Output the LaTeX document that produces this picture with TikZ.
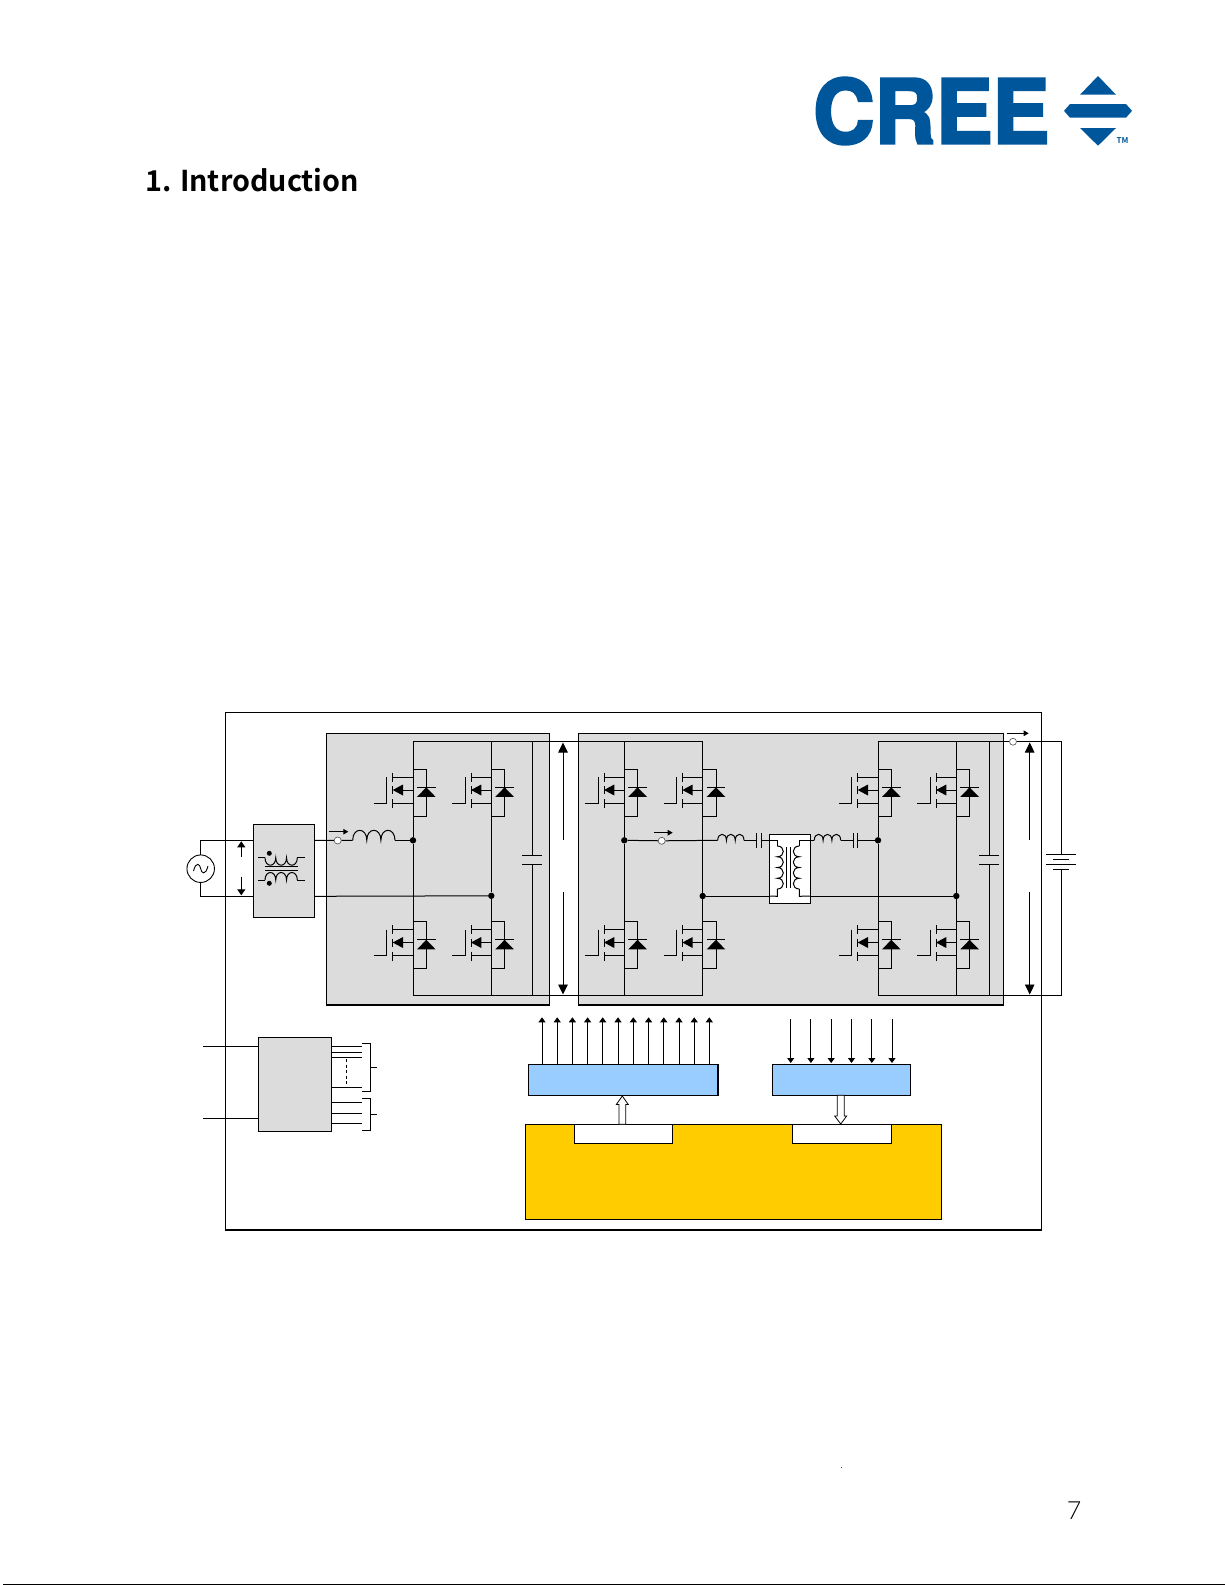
\documentclass[tikz,border=0pt]{standalone}
\usepackage{fontspec}
\usepackage{graphicx}
\usetikzlibrary{arrows.meta,calc}
\setmainfont{Noto Sans}
\newfontfamily\logofont[FakeBold=3.2]{TeX Gyre Heros Bold}
\newfontfamily\titlefont{Noto Sans CJK JP Bold}
\newfontfamily\pagefont{Lato Light}
\definecolor{creeblue}{HTML}{00569A}
\definecolor{panelgray}{HTML}{DCDCDC}
\definecolor{ctrlblue}{HTML}{99CCFF}
\definecolor{ctrlyellow}{HTML}{FFCC00}
\tikzset{
  wire/.style={draw=black,line width=1pt},
  thinw/.style={draw=black,line width=0.9pt},
  boxn/.style={draw=black,line width=1.1pt,inner sep=0pt,outer sep=0pt,anchor=north west},
  dot/.style={circle,fill=black,inner sep=0pt,minimum size=6.4pt},
  term/.style={circle,draw=black!70,fill=white,line width=0.6pt,inner sep=0pt,minimum size=7pt},
  bigarr/.style={draw=black,line width=0.9pt,-{Triangle[length=10pt,width=9.5pt]}},
  smallarr/.style={draw=black,line width=0.9pt,-{Triangle[length=5pt,width=7pt]}},
  curarr/.style={draw=black,line width=0.9pt,-{Triangle[length=5pt,width=5.5pt]}},
  voltarr/.style={draw=black,line width=0.9pt,-{Triangle[length=6pt,width=8pt]}},
  hollow/.style={draw=black,line width=0.8pt,fill=white},
}
% box given by its corners: name, x1, y1, x2, y2, style
\newcommand{\cornerbox}[6]{%
  \node[boxn,#6,minimum width={(#4-#2)*1pt},minimum height={(#5-#3)*1pt}] (#1) at (#2,#3) {};}
% horizontal coil: x0,x1,y,n,h (h>0 bulges up)
\newcommand{\coilh}[5]{%
  \pgfmathsetmacro\cw{(#2-#1)/#4}%
  \draw[wire] (#1,#3) foreach \k in {1,...,#4} { .. controls ({#1+(\k-1)*\cw},{#3-1.33*#5}) and ({#1+\k*\cw},{#3-1.33*#5}) .. ({#1+\k*\cw},#3) };}
% vertical coil: x,y0,y1,n,h (h>0 bulges right)
\newcommand{\coilv}[5]{%
  \pgfmathsetmacro\cw{(#3-#2)/#4}%
  \draw[wire] (#1,#2) foreach \k in {1,...,#4} { .. controls ({#1+1.33*#5},{#2+(\k-1)*\cw}) and ({#1+1.33*#5},{#2+\k*\cw}) .. (#1,{#2+\k*\cw}) };}
% transistor with body diode: leg x, vertical offset
\newcommand{\fetcell}[2]{%
  \draw[wire] ({#1},{777.3+#2}) -- ({#1-20.3},{777.3+#2});
  \draw[wire] ({#1},{803.3+#2}) -- ({#1-20.3},{803.3+#2});
  \draw[wire] ({#1-20.3},{772.7+#2}) -- ({#1-20.3},{781.7+#2});
  \draw[wire] ({#1-20.3},{786+#2}) -- ({#1-20.3},{794+#2});
  \draw[wire] ({#1-20.3},{799.3+#2}) -- ({#1-20.3},{808.3+#2});
  \draw[wire] ({#1-26.3},{777+#2}) -- ({#1-26.3},{803.3+#2}) -- ({#1-39},{803.3+#2});
  \draw[wire] ({#1},{790+#2}) -- ({#1-12},{790+#2});
  \fill[black] ({#1-20.3},{790+#2}) -- ({#1-10},{784.5+#2}) -- ({#1-10},{795.5+#2}) -- cycle;
  \draw[wire] ({#1},{769.3+#2}) -- ({#1+13.3},{769.3+#2}) -- ({#1+13.3},{816+#2}) -- ({#1},{816+#2});
  \fill[black] ({#1+13.3},{787.3+#2}) -- ({#1+22.6},{796.9+#2}) -- ({#1+4},{796.9+#2}) -- cycle;
  \draw[wire] ({#1+4},{787.3+#2}) -- ({#1+22.6},{787.3+#2});}
% capacitor across the rails
\newcommand{\railcap}[1]{%
  \draw[wire] (#1,741.7) -- (#1,855.7);
  \draw[wire] (#1,864) -- (#1,995.3);
  \draw[wire] ({#1-10},855.7) -- ({#1+10},855.7);
  \draw[wire] ({#1-10},864) -- ({#1+10},864);}
\begin{document}
\begin{tikzpicture}[x=1pt,y=-1pt]
\useasboundingbox (0,0) rectangle (1225,1585);
\fill[white] (0,0) rectangle (1225,1585);

% ---------- page furniture ----------
\node[anchor=base west,inner sep=0pt,font=\fontsize{28.7}{29}\selectfont\titlefont] (title) at (145,191.5) {1. Introduction};
\node[anchor=base,inner sep=0pt,text=black,font=\fontsize{25}{25}\selectfont\pagefont] (pageno) at (1074,1519.5) {7};
\fill[black!70] (840.7,1466.7) rectangle (842,1468);
\draw[black,line width=1.4pt] (3,1584.3) -- (1225,1584.3);

% ---------- logo ----------
\node[anchor=south west,inner sep=0pt,text=creeblue] (logo) at (813,144.5) {\resizebox{236pt}{65.5pt}{\logofont CREE}};
\fill[creeblue] (1098,76) -- (1116,94.7) -- (1080,94.7) -- cycle;
\fill[creeblue] (1070,104) -- (1126,104) -- (1132,110.8) -- (1126,117.7) -- (1070,117.7) -- (1064,110.8) -- cycle;
\fill[creeblue] (1080,128) -- (1116,128) -- (1098,145.7) -- cycle;
\node[anchor=base west,inner sep=0pt,text=creeblue,font=\fontsize{8}{8}\selectfont\titlefont] (tm) at (1116.5,143.5) {TM};

% ---------- outer frame and panels ----------
\cornerbox{frame}{225.3}{712.3}{1041.7}{1230}{fill=white}
\cornerbox{pfc}{326.7}{733.3}{549.3}{1005}{fill=panelgray}
\cornerbox{dcdc}{578.3}{733.3}{1003.3}{1005}{fill=panelgray}
\cornerbox{emi}{253.3}{824.3}{314.3}{917.3}{fill=panelgray}
\cornerbox{aux}{258.3}{1037.3}{331.3}{1131.3}{fill=panelgray}
\cornerbox{drv}{528.3}{1064.3}{718}{1095.3}{fill=ctrlblue}
\cornerbox{sens}{772.7}{1064.3}{910.3}{1095.3}{fill=ctrlblue}
\cornerbox{ctrl}{525.3}{1124.3}{941.7}{1219.3}{fill=ctrlyellow}
\cornerbox{tabA}{574.3}{1124.3}{672.3}{1143.3}{fill=white}
\cornerbox{tabB}{792.3}{1124.3}{891.3}{1143.3}{fill=white}

% ---------- named circuit points ----------
\node[circle,draw=black,line width=0.9pt,inner sep=0pt,minimum size=27.5pt] (src) at (200.7,868.7) {};
\node[dot] (jA) at (413,840.3) {};
\node[dot] (jB) at (491.3,895.8) {};
\node[dot] (jC) at (624.3,840.3) {};
\node[dot] (jD) at (702.7,896) {};
\node[dot] (jE) at (878,840.3) {};
\node[dot] (jF) at (956.3,896) {};
\coordinate (srcT) at (200.7,840.3);
\coordinate (srcB) at (200.7,896.3);
\coordinate (emiT) at (emi.west |- srcT);
\coordinate (emiB) at (emi.west |- srcB);
\coordinate (emoT) at (emi.east |- srcT);
\coordinate (emoB) at (emi.east |- srcB);
\coordinate (railT1) at (413,741.7);
\coordinate (railT2) at (702.7,741.7);
\coordinate (railB1) at (413,995.3);
\coordinate (railB2) at (702.7,995.3);
\coordinate (railT3) at (878,741.7);
\coordinate (railT4) at (1061,741.7);
\coordinate (railB3) at (878,995.3);
\coordinate (railB4) at (1061,995.3);
\node[term] (tmA) at (337.7,840.5) {};
\node[term] (tmB) at (661.7,840.8) {};
\node[term] (tmC) at (1013,741.7) {};

% ---------- input ----------
\draw[wire] (src.north) -- (srcT) -- (emiT);
\draw[wire] (src.south) -- (srcB) -- (emiB);
\draw[thinw] (193.5,871) .. controls (196,861) and (200,864) .. (200.7,868.7) .. controls (201.4,873.4) and (205.5,876) .. (208,866);
\draw[voltarr] (241.3,856.7) -- (241.3,841.3);
\draw[voltarr] (241.3,876.7) -- (241.3,895.3);
% EMI filter symbol
\draw[wire] (258.3,857.7) -- (265,857.7);
\coilh{265}{297.3}{857.7}{3}{-7.5}
\draw[wire] (297.3,857.7) -- (305,857.7);
\draw[wire] (258.3,880) -- (265,880);
\coilh{265}{297.3}{880}{3}{7.5}
\draw[wire] (297.3,880) -- (305,880);
\draw[wire] (265,866.7) -- (298,866.7);
\draw[wire] (265,870) -- (298,870);
\fill[black] (269.3,853.3) circle (2.5);
\fill[black] (269.3,883.3) circle (2.5);

% ---------- PFC stage ----------
\draw[wire] (emoT) -- (tmA) -- (352.7,840.3);
\coilh{352.7}{395}{840.3}{3}{10}
\draw[wire] (395,840.3) -- (jA);
\draw[curarr] (329.3,831.7) -- (348.3,831.7);
\draw[wire] (emoB) -- (jB);
\draw[wire] (railT1) -- (railT2);
\draw[wire] (railB1) -- (railB2);
\draw[wire] (railT1) -- (jA) -- (railB1);
\draw[wire] (491.3,741.7) -- (jB) -- (491.3,995.3);
\railcap{532.3}
\fetcell{413}{0}
\fetcell{413}{152.5}
\fetcell{491.3}{0}
\fetcell{491.3}{152.5}
\draw[bigarr] (563,840) -- (563,742.5);
\draw[bigarr] (563,891.7) -- (563,994.5);

% ---------- DC/DC stage ----------
\draw[wire] (624.3,741.7) -- (jC) -- (624.3,995.3);
\draw[wire] (railT2) -- (jD) -- (railB2);
\fetcell{624.3}{0}
\fetcell{624.3}{152.5}
\fetcell{702.7}{0}
\fetcell{702.7}{152.5}
\draw[wire] (jC) -- (tmB) -- (717.7,840.3);
\draw[curarr] (654.3,832.7) -- (672.7,832.7);
\coilh{717.7}{744}{840.3}{3}{6}
\draw[wire] (744,840.3) -- (756,840.3);
\draw[wire] (756,833) -- (756,848);
\draw[wire] (761,833) -- (761,848);
% transformer
\cornerbox{xfmr}{769.3}{834.3}{810.7}{903.3}{fill=white}
\draw[wire] (761,840.3) -- (xfmr.west |- 0,840.3) -- (777.3,840.3) -- (777.3,846);
\coilv{777.3}{846}{889}{4}{6}
\draw[wire] (777.3,889) -- (777.3,896.3) -- (xfmr.west |- jD);
\draw[wire] (jD) -- (xfmr.west |- jD);
\draw[wire] (814.3,840.3) -- (799.3,840.3) -- (799.3,846);
\coilv{799.3}{846}{889}{4}{-6}
\draw[wire] (799.3,889) -- (799.3,896.3) -- (xfmr.east |- jF);
\draw[wire] (xfmr.east |- jF) -- (jF);
\draw[wire] (786.7,847) -- (786.7,888.3);
\draw[wire] (790.7,847) -- (790.7,888.3);
\coilh{814.3}{840.7}{840.3}{3}{6}
\draw[wire] (840.7,840.3) -- (853.3,840.3);
\draw[wire] (853.3,833) -- (853.3,848);
\draw[wire] (857.3,833) -- (857.3,848);
\draw[wire] (857.3,840.3) -- (jE);
\draw[wire] (railT3) -- (jE) -- (railB3);
\draw[wire] (956.3,741.7) -- (jF) -- (956.3,995.3);
\fetcell{878}{0}
\fetcell{878}{152.5}
\fetcell{956.3}{0}
\fetcell{956.3}{152.5}
\railcap{989}

% ---------- output and battery ----------
\draw[wire] (railT3) -- (tmC) -- (railT4) -- (1061,854);
\draw[wire] (railB3) -- (railB4) -- (1061,869.3);
\draw[wire] (1046,854) -- (1076,854);
\draw[wire] (1053,859) -- (1069,859);
\draw[wire] (1046,864) -- (1076,864);
\draw[wire] (1053,869.3) -- (1069,869.3);
\draw[curarr] (1006.7,733.3) -- (1028.7,733.3);
\draw[bigarr] (1029.7,840) -- (1029.7,742.5);
\draw[bigarr] (1029.7,891.7) -- (1029.7,994.5);

% ---------- auxiliary supply ----------
\draw[wire] (203.3,1046.7) -- (aux.west |- 0,1046.7);
\draw[wire] (203.3,1118) -- (aux.west |- 0,1118);
\foreach \yy in {1046.7,1052,1057,1087.3,1102.7,1113,1123}
  \draw[wire] (aux.east |- 0,\yy) -- (362.3,\yy);
\draw[thinw,dash pattern=on 3pt off 2.5pt] (346.3,1059) -- (346.3,1087);
\coordinate (brA) at (370.3,1067.3);
\coordinate (brB) at (370.3,1114.3);
\draw[wire] (362.3,1043.3) -- (370.3,1043.3) -- (370.3,1091) -- (362.3,1091);
\draw[wire] (brA) -- (376.7,1067.3);
\draw[wire] (362.3,1098.3) -- (370.3,1098.3) -- (370.3,1130.3) -- (362.3,1130.3);
\draw[wire] (brB) -- (376.7,1114.3);

% ---------- driver and sensing ----------
\foreach \xx in {542,557.2,572.4,587.6,602.7,618,633.3,648.6,663.8,679,694.2,709.3}
  \draw[smallarr] (\xx,1064.3) -- (\xx,1017.3);
\foreach \xx in {790.7,810.9,831.2,851.5,871.8,892}
  \draw[smallarr] (\xx,1019) -- (\xx,1063);
\draw[hollow] (618.9,1124.3) -- (618.9,1104.5) -- (616.3,1104.5) -- (622.3,1096) -- (628.3,1104.5) -- (625.7,1104.5) -- (625.7,1124.3) -- cycle;
\draw[hollow] (837.2,1095.3) -- (837.2,1116) -- (834.7,1116) -- (840.7,1124) -- (846.7,1116) -- (844.2,1116) -- (844.2,1095.3) -- cycle;
\end{tikzpicture}
\end{document}
